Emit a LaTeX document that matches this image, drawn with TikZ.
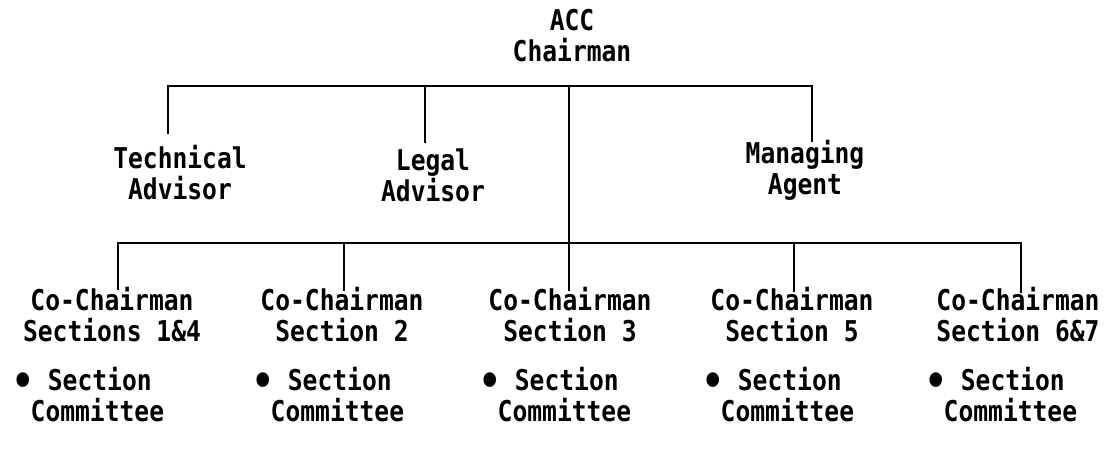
\documentclass[tikz,border=0pt]{standalone}
\usepackage{fontspec}
\usepackage{graphicx}
\setmonofont{DejaVu Sans Mono}[FakeStretch=0.86]
\newcommand{\blob}{\makebox[0.6em][l]{\kern-0.12em\raisebox{-0.16em}{\scalebox{1.45}{•}}}}
\begin{document}
\begin{tikzpicture}[x=0.02cm,y=-0.02cm,
  lbl/.style={font=\ttfamily\bfseries\fontsize{16.3}{17.6}\selectfont, align=center, inner sep=0pt},
  blt/.style={font=\ttfamily\bfseries\fontsize{16.3}{17.6}\selectfont, align=left, inner sep=0pt},
  conn/.style={line width=1.2pt}]
\path[use as bounding box] (0,0) rectangle (1118,456);
% top level
\node[lbl] (acc) at (572,36) {ACC\\Chairman};
\node[lbl] (tech) at (180,173) {Technical\\Advisor};
\node[lbl] (legal) at (433,175) {Legal\\Advisor};
\node[lbl] (mgr) at (805,170) {Managing\\Agent};
% co-chairmen
\node[lbl] (c1) at (112,315) {Co-Chairman\\Sections 1\&4};
\node[lbl] (c2) at (342,315) {Co-Chairman\\Section 2};
\node[lbl] (c3) at (570,315) {Co-Chairman\\Section 3};
\node[lbl] (c4) at (792,315) {Co-Chairman\\Section 5};
\node[lbl] (c5) at (1018,315) {Co-Chairman\\Section 6\&7};
% committees
\node[blt] (s1) at (90,395) {\blob~Section\\\hphantom{C}Committee};
\node[blt] (s2) at (330,395) {\blob~Section\\\hphantom{C}Committee};
\node[blt] (s3) at (557,395) {\blob~Section\\\hphantom{C}Committee};
\node[blt] (s4) at (780,395) {\blob~Section\\\hphantom{C}Committee};
\node[blt] (s5) at (1003,395) {\blob~Section\\\hphantom{C}Committee};
% connector end points
\coordinate (bar1) at (569,86);
\coordinate (bar2) at (569,243);
\coordinate (techtop) at (168,134);
\coordinate (legaltop) at (425,143);
\coordinate (mgrtop) at (812,142);
\coordinate (c1top) at (118,290);
\coordinate (c2top) at (344,291);
\coordinate (c3top) at (569,291);
\coordinate (c4top) at (794,292);
\coordinate (c5top) at (1021,293);
% connectors
\draw[conn] (techtop) -- (techtop |- bar1) -- (mgrtop |- bar1) -- (mgrtop);
\draw[conn] (legaltop) -- (legaltop |- bar1);
\draw[conn] (bar1) -- (c3top);
\draw[conn] (c1top) -- (c1top |- bar2) -- (c5top |- bar2) -- (c5top);
\draw[conn] (c2top) -- (c2top |- bar2);
\draw[conn] (c4top) -- (c4top |- bar2);
\end{tikzpicture}
\end{document}
